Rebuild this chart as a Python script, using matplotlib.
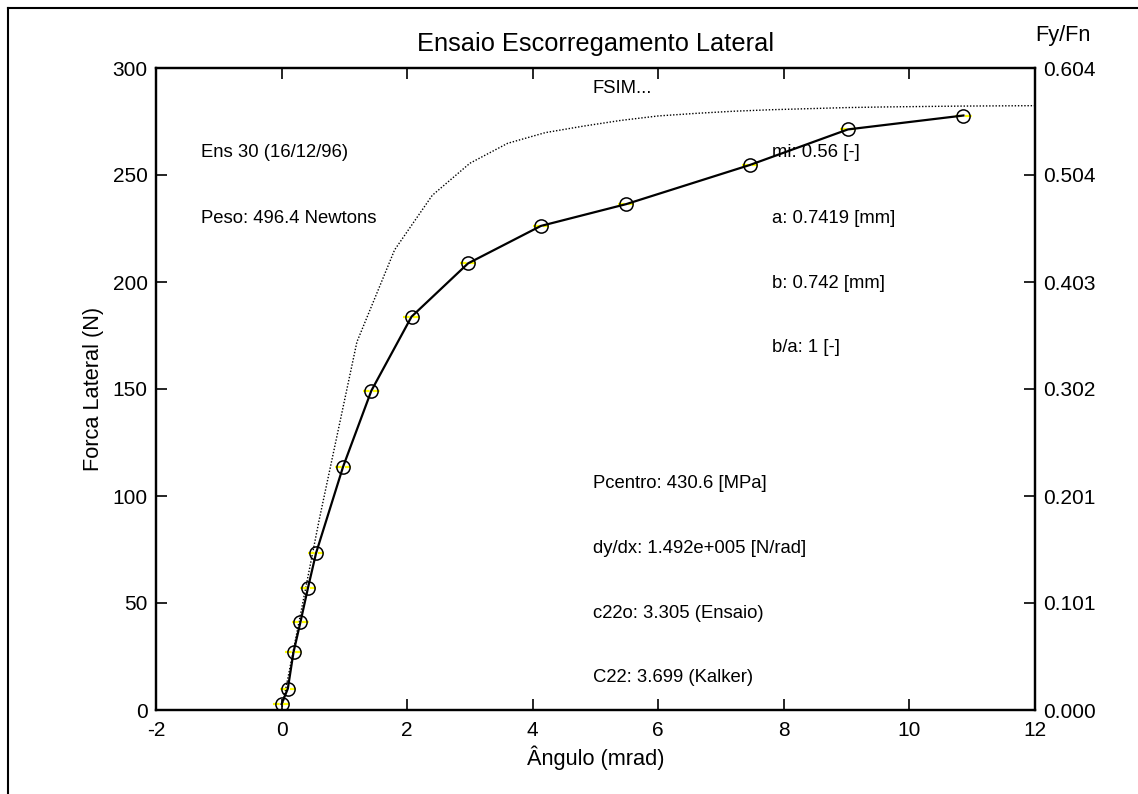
import matplotlib
matplotlib.use('Agg')
import matplotlib.pyplot as plt
from matplotlib.lines import Line2D

plt.rcParams['font.family'] = ['Liberation Sans', 'DejaVu Sans']
plt.rcParams['axes.unicode_minus'] = False

PESO = 496.4

# measured points (angle in mrad, lateral force in N)
angulo = [0.0, 0.10, 0.19, 0.30, 0.42, 0.55, 0.98, 1.43, 2.07, 2.97,
          4.13, 5.49, 7.46, 9.02, 10.86]
forca = [2.8, 10.0, 27.0, 41.0, 57.0, 73.4, 113.7, 149.2, 183.8, 208.7,
         226.2, 236.4, 254.7, 271.3, 277.8]

# simulation (FSIM)
sim_angulo = [0.0, 0.6, 1.2, 1.8, 2.4, 3.0, 3.6, 4.2, 4.8, 5.4, 6.0, 6.6,
              7.2, 7.8, 8.4, 9.0, 9.6, 10.2, 10.8, 11.4, 12.0]
sim_forca = [0.0, 89.0, 172.0, 215.0, 240.5, 255.5, 264.8, 269.8, 272.8,
             275.5, 277.6, 278.8, 279.8, 280.5, 281.0, 281.5, 281.8, 282.0,
             282.2, 282.3, 282.4]

xticks = [-2, 0, 2, 4, 6, 8, 10, 12]
yticks = [0, 50, 100, 150, 200, 250, 300]

# annotation texts (x, y in data units)
notas = [
    (-1.28, 260.7, 'Ens 30 (16/12/96)'),
    (-1.28, 229.9, 'Peso: 496.4 Newtons'),
    (4.96, 290.2, 'FSIM...'),
    (7.81, 260.7, 'mi: 0.56 [-]'),
    (7.81, 229.9, 'a: 0.7419 [mm]'),
    (7.81, 199.5, 'b: 0.742 [mm]'),
    (7.81, 169.2, 'b/a: 1 [-]'),
    (4.96, 106.0, 'Pcentro: 430.6 [MPa]'),
    (4.96, 75.7, 'dy/dx: 1.492e+005 [N/rad]'),
    (4.96, 45.3, 'c22o: 3.305 (Ensaio)'),
    (4.96, 15.4, 'C22: 3.699 (Kalker)'),
]

fig = plt.figure(figsize=(11.38, 7.94), dpi=100)
ax = fig.add_axes([156 / 1138, 84 / 794, 879 / 1138, 642 / 794])

ax.plot(sim_angulo, sim_forca, linestyle=(0, (1, 1.3)), color='black',
        linewidth=1.0)
eb = ax.errorbar(angulo, forca, xerr=0.13, fmt='none', ecolor='#ffff00',
                 elinewidth=1.6, capsize=0, zorder=3)
eb[2][0].set_linestyle((0, (3, 1.5)))
ax.plot(angulo, forca, '-o', color='black', linewidth=1.6, markersize=9.5,
        markerfacecolor='none', markeredgecolor='black', markeredgewidth=1.1,
        zorder=4)

for x, y, s in notas:
    ax.text(x, y, s, fontsize=13.3, va='center', ha='left')

ax.set_xlim(-2, 12)
ax.set_ylim(0, 300)
ax.set_xticks(xticks)
ax.set_yticks(yticks)
ax.tick_params(direction='in', length=8, width=1.2, labelsize=15,
               top=True, right=False, pad=6)
ax.tick_params(axis='x', pad=8)
for sp in ax.spines.values():
    sp.set_linewidth(1.6)

ax.set_title('Ensaio Escorregamento Lateral', fontsize=18.3, pad=12)
ax.set_xlabel('Ângulo (mrad)', fontsize=15.7, labelpad=4)
ax.set_ylabel('Forca Lateral (N)', fontsize=15.7, labelpad=6)

ax2 = ax.twinx()
ax2.set_ylim(0, 300)
ax2.set_yticks(yticks)
ax2.set_yticklabels(['{:.3f}'.format(v / PESO) for v in yticks])
ax2.tick_params(direction='in', length=8, width=1.2, labelsize=15, pad=6)
for sp in ax2.spines.values():
    sp.set_linewidth(1.6)
fig.text(1063 / 1138, 1 - 36 / 794, 'Fy/Fn', fontsize=15.7, ha='center',
         va='center')

# frame lines of the original window
fig.add_artist(Line2D([8 / 1138, 8 / 1138], [0, 1 - 8 / 794], color='black',
                      linewidth=1.5, transform=fig.transFigure))
fig.add_artist(Line2D([8 / 1138, 1], [1 - 8 / 794, 1 - 8 / 794],
                      color='black', linewidth=1.5, transform=fig.transFigure))

fig.savefig('out.png', dpi=100)
